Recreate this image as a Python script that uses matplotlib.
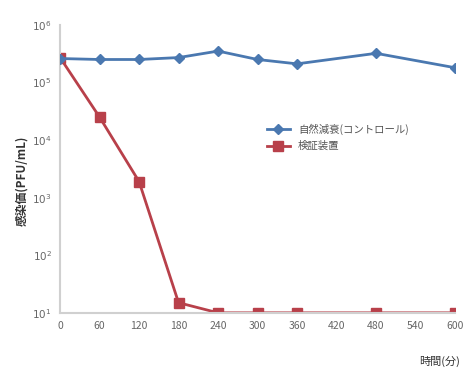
import matplotlib
matplotlib.use("Agg")
import matplotlib.pyplot as plt
from matplotlib.ticker import FixedLocator, NullLocator

plt.rcParams['font.family'] = ['Noto Sans CJK JP', 'DejaVu Sans']

# Data
minutes_control = [0, 60, 120, 180, 240, 300, 360, 480, 600]
control_pfu = [2.6e5, 2.5e5, 2.5e5, 2.7e5, 3.5e5, 2.5e5, 2.1e5, 3.2e5, 1.8e5]
minutes_device = [0, 60, 120, 180, 240, 300, 360, 480, 600]
device_pfu = [2.7e5, 2.5e4, 1.9e3, 15, 10, 10, 10, 10, 10]
x_ticks = [0, 60, 120, 180, 240, 300, 360, 420, 480, 540, 600]
y_ticks = [1e1, 1e2, 1e3, 1e4, 1e5, 1e6]
y_labels = ["$10^{1}$", "$10^{2}$", "$10^{3}$", "$10^{4}$", "$10^{5}$", "$10^{6}$"]
series_names = ["自然減衰(コントロール)", "検証装置"]

fig = plt.figure(figsize=(4.73, 3.76), dpi=100)
ax = fig.add_axes([0.127, 0.168, 0.835, 0.766])

ax.plot(minutes_control, control_pfu, color="#4a78b0", lw=2.0, marker="D",
        ms=5, label=series_names[0], zorder=3)
ax.plot(minutes_device, device_pfu, color="#b8404a", lw=2.0, marker="s",
        ms=7, label=series_names[1], zorder=2)

ax.set_yscale("log")
ax.set_ylim(1e1, 1e6)
ax.set_xlim(0, 600)
ax.yaxis.set_major_locator(FixedLocator(y_ticks))
ax.yaxis.set_minor_locator(NullLocator())
ax.set_yticklabels(y_labels)
ax.set_xticks(x_ticks)

for s in ["top", "right"]:
    ax.spines[s].set_visible(False)
for s in ["left", "bottom"]:
    ax.spines[s].set_color("#d0d0d0")
    ax.spines[s].set_linewidth(1.5)
ax.tick_params(length=0, labelsize=7.5, colors="#666666", pad=6)

fig.text(0.047, 0.52, "感染価(PFU/mL)", rotation=90, ha="center", va="center",
         fontsize=8.5, fontweight="bold", color="#333333")
fig.text(0.93, 0.04, "時間(分)", ha="center", va="center", fontsize=8,
         color="#333333")

ax.legend(loc="upper left", bbox_to_anchor=(0.5, 0.69), frameon=False,
          fontsize=7.5, handlelength=2.2, labelspacing=0.6, labelcolor="#555555")

fig.savefig("out.png", dpi=100)
